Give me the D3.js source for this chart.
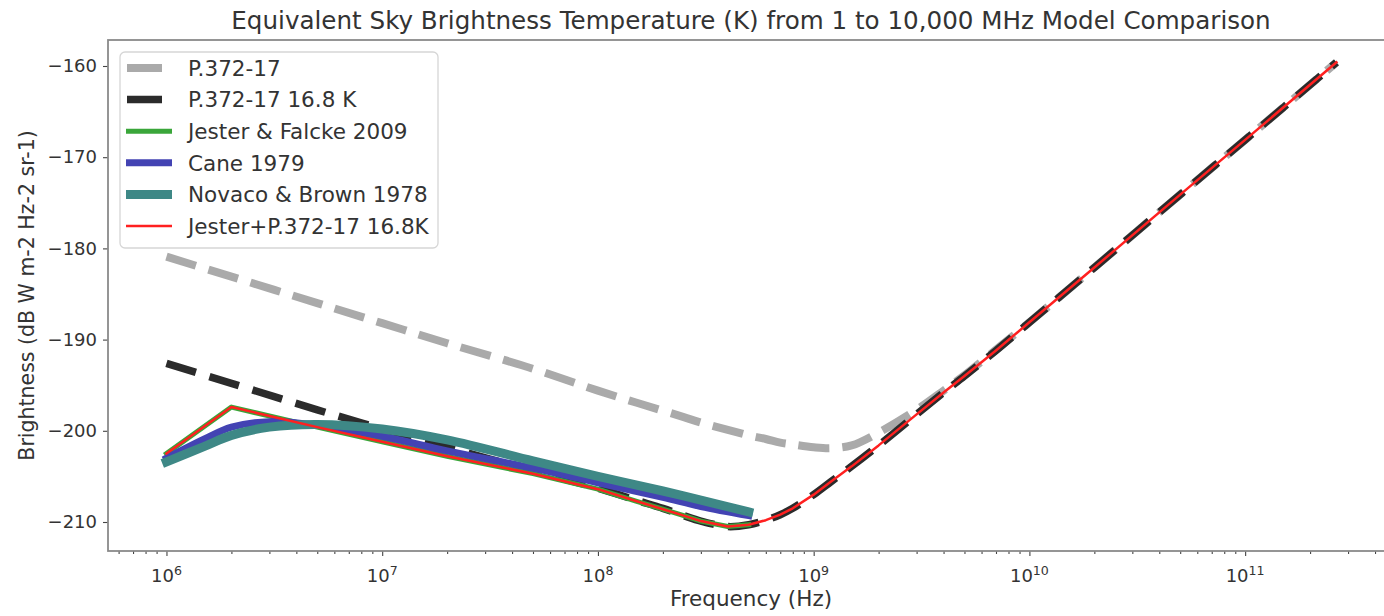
<!DOCTYPE html>
<html>
<head>
<meta charset="utf-8">
<script src="https://cdn.jsdelivr.net/npm/d3@7"></script>
<style>
  body { margin: 0; background: #fff; }
  text { font-family: "DejaVu Sans", sans-serif; fill: #333; }
</style>
</head>
<body>
<svg id="chart" width="1384" height="616"></svg>
<script>
// frequencies (Hz) and brightness (dB)
var freqP372 = [1e6, 2e6, 5e6, 1e7, 2e7, 5e7, 1e8, 1.5e8, 2e8, 2.5e8, 3e8, 4e8, 5e8, 6e8, 7e8, 8e8,
                1e9, 1.2e9, 1.5e9, 2e9, 3e9, 4e9, 5e9, 7e9, 1e10, 2e10, 5e10, 1e11, 2.65e11];
var p372 = [-180.9, -183.1, -186.0, -188.2, -190.4, -193.2, -195.6, -196.9, -197.8, -198.5, -199.1, -199.9, -200.5, -200.9, -201.3, -201.5,
            -201.8, -201.9, -201.6, -200.2, -197.7, -195.6, -193.9, -191.1, -188.1, -182.1, -174.1, -168.1, -159.6];
var p372_168 = [-192.6, -194.8, -197.7, -199.8, -201.8, -204.4, -206.3, -207.6, -208.5, -209.3, -209.9, -210.5, -210.3, -209.8, -209.2, -208.5,
                -207.0, -205.6, -203.9, -201.6, -198.2, -195.8, -194.0, -191.2, -188.1, -182.1, -174.1, -168.1, -159.6];

var freqJester = [1e6, 2e6, 5e6, 1e7, 2e7, 5e7, 1e8, 1.5e8, 2e8, 2.5e8, 3e8, 4e8, 5e8];
var jester = [-202.5, -197.4, -199.6, -201.2, -202.8, -204.7, -206.4, -207.7, -208.6, -209.3, -209.9, -210.5, -210.3];

var freqModel = [1e6, 1.5e6, 2e6, 3e6, 5e6, 1e7, 2e7, 5e7, 1e8, 2e8, 3e8, 5e8];
var cane = [-203.0, -200.9, -199.6, -199.0, -199.4, -200.6, -202.2, -204.1, -205.7, -207.3, -208.3, -209.3];
var novaco = [-203.4, -201.7, -200.5, -199.6, -199.3, -199.8, -201.0, -203.3, -205.0, -206.6, -207.6, -208.9];

var jesterSum = jester.concat([-209.8, -209.2, -208.5, -207.0, -205.6, -203.9, -201.6, -198.2, -195.8, -194.0, -191.2,
                               -188.1, -182.1, -174.1, -168.1, -159.6]);

var yTicks = [-160, -170, -180, -190, -200, -210];
var xMajor = [1e6, 1e7, 1e8, 1e9, 1e10, 1e11];

var labels = ["P.372-17", "P.372-17 16.8 K", "Jester & Falcke 2009", "Cane 1979",
              "Novaco & Brown 1978", "Jester+P.372-17 16.8K"];

// plot box (window.top is taken, so prefixed names)
var pLeft = 108, pRight = 1394, pTop = 40, pBottom = 551;

var svg = d3.select("#chart");

var x = d3.scaleLog().domain([Math.pow(10, 5.729), Math.pow(10, 11.69)]).range([pLeft, pRight]);
var y = d3.scaleLinear().domain([-157.15, -213.18]).range([pTop, pBottom]);

var smooth = d3.curveCatmullRom.alpha(0.5);

var series = [
  { name: labels[0], f: freqP372, v: p372, color: "#aaaaaa", width: 8, dash: "31,13", curve: smooth },
  { name: labels[1], f: freqP372, v: p372_168, color: "#2b2b2b", width: 7.5, dash: "31,14", curve: smooth },
  { name: labels[2], f: freqJester, v: jester, color: "#3aa63a", width: 5, dash: null, curve: d3.curveLinear },
  { name: labels[3], f: freqModel, v: cane, color: "#4343b3", width: 7, dash: null, curve: smooth },
  { name: labels[4], f: freqModel, v: novaco, color: "#3e8886", width: 9, dash: null, curve: smooth },
  { name: labels[5], f: freqP372, v: jesterSum, color: "#ff2020", width: 2.5, dash: null, curve: d3.curveLinear }
];

// axes
var minors = [];
for (var e = 5; e <= 11; e++) {
  for (var m = 2; m <= 9; m++) {
    var val = m * Math.pow(10, e);
    if (x(val) >= pLeft && x(val) <= pRight) minors.push(val);
  }
}

var gx = svg.append("g").attr("transform", `translate(0,${pBottom})`);
gx.call(d3.axisBottom(x).tickValues(xMajor).tickSize(5).tickFormat(""));
gx.append("g").call(d3.axisBottom(x).tickValues(minors).tickSize(3).tickFormat(""));
gx.selectAll(".domain").remove();
gx.selectAll("line").attr("stroke", "#444").attr("stroke-width", 1.1);

var xl = svg.append("g").selectAll("text")
  .data(xMajor).enter()
  .append("text")
  .attr("x", d => x(d))
  .attr("y", 582)
  .attr("text-anchor", "middle")
  .style("font-size", "18px");
xl.append("tspan").text("10");
xl.append("tspan").attr("dy", -7).style("font-size", "12.6px").text(d => Math.round(Math.log10(d)));

var gy = svg.append("g").attr("transform", `translate(${pLeft},0)`);
gy.call(d3.axisLeft(y).tickValues(yTicks).tickSize(5).tickPadding(6)
  .tickFormat(d => String(d).replace("-", "\u2212")));
gy.selectAll(".domain").remove();
gy.selectAll("line").attr("stroke", "#444").attr("stroke-width", 1.1);
gy.selectAll("text").style("font-size", "18px").style("font-family", "DejaVu Sans").attr("fill", "#333");

// lines
var plot = svg.append("g");
series.forEach(function(s) {
  var line = d3.line()
    .x(d => x(d[0]))
    .y(d => y(d[1]))
    .curve(s.curve);
  plot.append("path")
    .datum(d3.zip(s.f, s.v))
    .attr("d", line)
    .attr("fill", "none")
    .attr("stroke", s.color)
    .attr("stroke-width", s.width)
    .attr("stroke-dasharray", s.dash)
    .attr("stroke-linecap", s.dash ? "butt" : "square")
    .attr("stroke-linejoin", "round");
});

// frame
svg.append("rect")
  .attr("x", pLeft).attr("y", pTop)
  .attr("width", pRight - pLeft).attr("height", pBottom - pTop)
  .attr("fill", "none").attr("stroke", "#8a8a8a").attr("stroke-width", 1.8);

// title and axis labels
svg.append("text")
  .attr("x", (pLeft + pRight) / 2).attr("y", 29)
  .attr("text-anchor", "middle")
  .style("font-size", "24.6px")
  .text("Equivalent Sky Brightness Temperature (K) from 1 to 10,000 MHz Model Comparison");

svg.append("text")
  .attr("x", (pLeft + pRight) / 2).attr("y", 606)
  .attr("text-anchor", "middle")
  .style("font-size", "21.5px")
  .text("Frequency (Hz)");

svg.append("text")
  .attr("transform", `translate(34,${(pTop + pBottom) / 2}) rotate(-90)`)
  .attr("text-anchor", "middle")
  .style("font-size", "20.5px")
  .text("Brightness (dB W m-2 Hz-2 sr-1)");

// legend
var lg = svg.append("g");
lg.append("rect")
  .attr("x", 120).attr("y", 52).attr("width", 318).attr("height", 196)
  .attr("rx", 5)
  .attr("fill", "white").attr("fill-opacity", 0.85)
  .attr("stroke", "#d6d6d6").attr("stroke-width", 1.3);

var rows = lg.selectAll("g.row")
  .data(series).enter()
  .append("g")
  .attr("class", "row")
  .attr("transform", (d, i) => `translate(0,${68 + i * 31.6})`);

rows.append("line")
  .attr("x1", d => d.dash ? 127 : 126)
  .attr("x2", d => d.dash ? 162 : 172)
  .attr("stroke", d => d.color)
  .attr("stroke-width", d => d.width)
  .attr("stroke-linecap", "butt");

rows.append("text")
  .attr("x", 188)
  .attr("dy", "0.36em")
  .style("font-size", "21.5px")
  .text(d => d.name);
</script>
</body>
</html>
